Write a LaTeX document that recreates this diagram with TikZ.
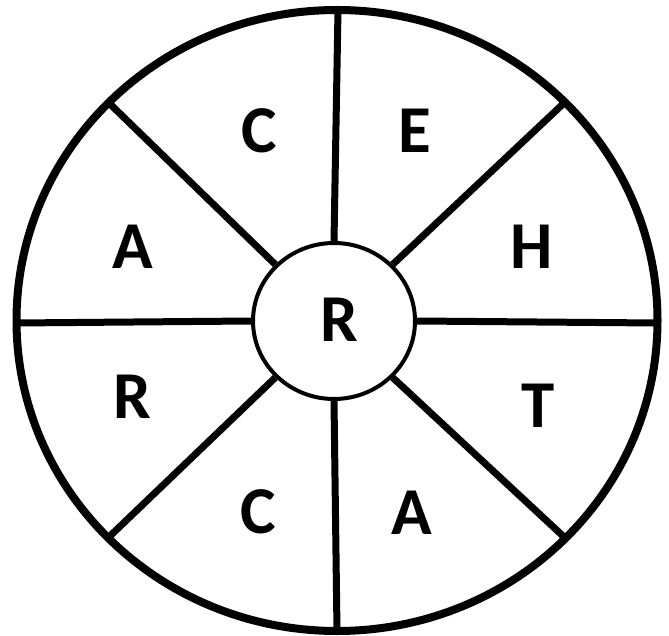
\documentclass[tikz,border=0pt]{standalone}
\usepackage{fontspec}
\setmainfont{Carlito}
\usetikzlibrary{shapes.geometric}
\begin{document}
\begin{tikzpicture}[x=1pt,y=-1pt,
  spoke/.style={line width=7pt},
  letter/.style={inner sep=0pt,font=\fontsize{67}{67}\selectfont\bfseries}]
\useasboundingbox (0,0) rectangle (669,636);
\coordinate (O) at (337,321);
\coordinate (top) at (338,10);
\coordinate (bot) at (337,631);
\coordinate (lft) at (16,323);
\coordinate (rgt) at (657,323);
\coordinate (ul) at (110,104);
\coordinate (ur) at (563,104);
\coordinate (ll) at (110,536);
\coordinate (lr) at (563,536);
\node[draw,line width=4pt,ellipse,fill=white,minimum width=162pt,minimum height=156pt,inner sep=0pt] (inner) at (334,321) {};
\draw[spoke] (top) -- (inner.north);
\draw[spoke] (bot) -- (inner.south);
\draw[spoke] (lft) -- (inner.west);
\draw[spoke] (rgt) -- (inner.east);
\draw[spoke] (ul) -- (inner.north west);
\draw[spoke] (ur) -- (inner.north east);
\draw[spoke] (ll) -- (inner.south west);
\draw[spoke] (lr) -- (inner.south east);
\draw[line width=8pt] (337,320.5) ellipse [x radius=320.5, y radius=310.5];
\node[letter] (c1) at (259,131) {C};
\node[letter] (e1) at (415,131) {E};
\node[letter] (a1) at (133,247) {A};
\node[letter] (h1) at (532,247) {H};
\node[letter] (r0) at (339,320) {R};
\node[letter] (r1) at (132,397) {R};
\node[letter] (t1) at (538,406) {T};
\node[letter] (c2) at (258,512) {C};
\node[letter] (a2) at (412,513) {A};
\end{tikzpicture}
\end{document}
